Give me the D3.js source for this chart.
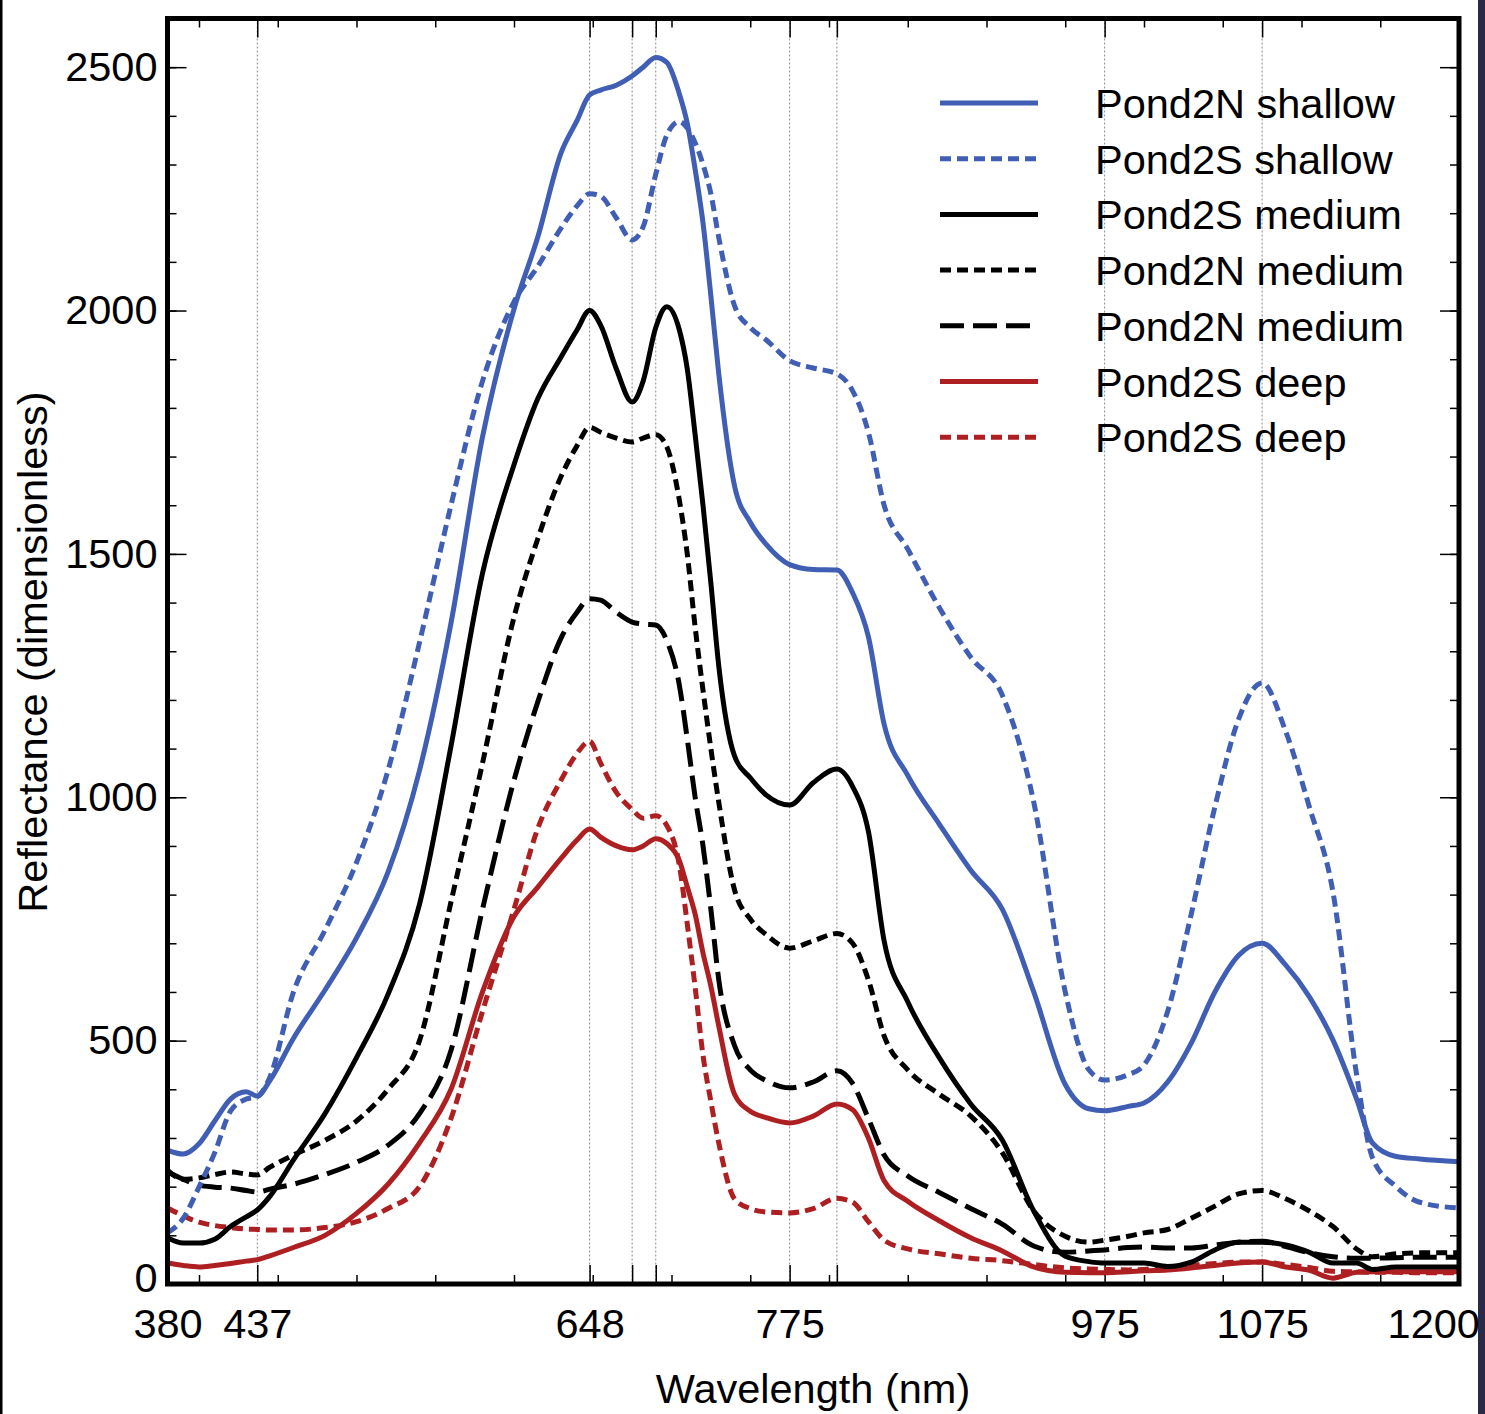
<!DOCTYPE html>
<html>
<head>
<meta charset="utf-8">
<script src="https://cdn.jsdelivr.net/npm/d3@7/dist/d3.min.js"></script>
<style>
  body { margin: 0; background: #fff; }
  svg { display: block; font-family: "Liberation Sans", Arial, Helvetica, sans-serif; }
</style>
</head>
<body>
<div class="chart"></div>
<script>
// data ============================================================ //

var wavelengths = [380, 390, 400, 410, 420, 430, 437, 445, 460, 480, 500, 520, 540, 560, 580, 600,
  615, 630, 640, 648, 655, 665, 675, 682, 690, 697, 705, 710, 715, 720, 725, 730, 740, 750, 760,
  775, 790, 805, 815, 825, 835, 850, 870, 890, 910, 930, 950, 965, 975, 990, 1000, 1015, 1030,
  1045, 1060, 1075, 1090, 1105, 1120, 1135, 1145, 1160, 1175, 1200];

var pond2nShallow = [275, 267, 288, 335, 380, 395, 386, 418, 505, 604, 711, 846, 1055, 1358, 1740, 2003,
  2150, 2325, 2390, 2443, 2453, 2463, 2482, 2500, 2520, 2510, 2445, 2385, 2290, 2180, 2030, 1870, 1640, 1565, 1520,
  1478, 1468, 1467, 1420, 1330, 1150, 1045, 945, 850, 770, 600, 410, 360, 356, 365, 372, 415, 495,
  600, 675, 700, 655, 590, 501, 380, 290, 262, 257, 251];

var pond2sShallow = [105, 135, 199, 270, 355, 380, 385, 425, 600, 727, 866, 1055, 1318, 1600, 1855, 2018,
  2090, 2170, 2215, 2240, 2235, 2190, 2145, 2172, 2280, 2360, 2388, 2375, 2345, 2300, 2240, 2150, 2010, 1965, 1940,
  1897, 1882, 1870, 1835, 1750, 1600, 1510, 1390, 1288, 1210, 990, 600, 440, 419, 430, 450, 560, 760,
  980, 1160, 1235, 1135, 980, 805, 430, 260, 200, 168, 156];

var pond2sMedium = [95, 84, 84, 92, 118, 138, 152, 180, 255, 350, 465, 595, 780, 1105, 1460, 1683,
  1818, 1905, 1960, 2000, 1970, 1880, 1812, 1855, 1965, 2008, 1960, 1880, 1745, 1600, 1440, 1270, 1085, 1040, 1005,
  984, 1030, 1058, 1022, 930, 705, 580, 465, 370, 296, 150, 57, 46, 43, 43, 43, 36, 45,
  70, 86, 86, 80, 65, 43, 43, 30, 35, 35, 35];

var pond2nMediumA = [234, 215, 218, 225, 230, 226, 224, 240, 265, 295, 335, 400, 500, 785, 1070, 1370,
  1530, 1660, 1722, 1760, 1750, 1738, 1730, 1738, 1745, 1720, 1610, 1500, 1350, 1220, 1100, 990, 810, 750, 718,
  690, 705, 720, 700, 625, 510, 440, 390, 345, 270, 150, 98, 86, 90, 98, 105, 112, 135,
  160, 185, 192, 175, 150, 118, 72, 56, 62, 64, 64];

var pond2nMediumB = [230, 215, 203, 199, 197, 192, 189, 195, 205, 225, 250, 285, 350, 480, 770, 1035,
  1195, 1328, 1380, 1408, 1405, 1380, 1360, 1356, 1354, 1322, 1230, 1120, 1000, 900, 770, 625, 490, 440, 418,
  403, 415, 438, 412, 340, 265, 222, 188, 155, 123, 78, 65, 68, 70, 75, 76, 74, 74,
  80, 86, 88, 77, 64, 56, 53, 53, 54, 55, 55];

var pond2sDeepA = [43, 38, 35, 38, 42, 47, 50, 58, 75, 100, 145, 205, 290, 400, 600, 755,
  815, 875, 912, 935, 918, 900, 892, 900, 915, 905, 870, 816, 760, 680, 612, 530, 390, 355, 342,
  331, 345, 370, 358, 300, 212, 170, 130, 95, 68, 35, 24, 23, 23, 25, 27, 29, 33,
  38, 43, 45, 35, 28, 12, 24, 25, 25, 25, 25];

var pond2sDeepB = [156, 140, 127, 120, 116, 113, 112, 111, 111, 116, 128, 155, 200, 340, 560, 770,
  935, 1036, 1090, 1115, 1070, 1010, 975, 957, 962, 942, 860, 740, 610, 470, 375, 290, 175, 155, 148,
  146, 155, 176, 168, 128, 90, 72, 62, 53, 48, 40, 33, 31, 30, 29, 30, 34, 38,
  42, 45, 45, 40, 34, 26, 25, 24, 24, 23, 23];

var seriesNames = ["Pond2N shallow", "Pond2S shallow", "Pond2S medium", "Pond2N medium",
  "Pond2N medium", "Pond2S deep", "Pond2S deep"];
var seriesValues = [pond2nShallow, pond2sShallow, pond2sMedium, pond2nMediumA,
  pond2nMediumB, pond2sDeepA, pond2sDeepB];
var seriesColors = ["#3f5eb4", "#3f5eb4", "#000000", "#000000", "#000000", "#ae1f22", "#ae1f22"];
var seriesDash = [null, "11,6", null, "11,6", "24,9", null, "11,6"];

var xLabelTicks = [380, 437, 648, 775, 975, 1075, 1200];
var xGridTicks = [437, 648, 675, 690, 775, 805, 975, 1075];
var xMinorTicks = d3.range(400, 1200, 50);
var yMajorTicks = [0, 500, 1000, 1500, 2000, 2500];
var yMinorTicks = d3.range(0, 2600, 100);

// chart ============================================================ //

function drawChart() {
  var W = 1485, H = 1414;
  var fontSize = "41.5px";
  var margin = { top: 18.5, right: 26, bottom: 130, left: 167.5 },
    width = 1459 - margin.left,
    height = 1284 - margin.top;

  var svg = d3.select(".chart").append("svg")
    .attr("width", W)
    .attr("height", H);

  // frame decoration from the source picture
  svg.append("rect").attr("x", 0).attr("y", 0).attr("width", 2.5).attr("height", H).attr("fill", "#000");
  svg.append("rect").attr("x", 1478).attr("y", 0).attr("width", 7).attr("height", H).attr("fill", "#2a2947");

  var g = svg.append("g")
    .attr("transform", "translate(" + margin.left + "," + margin.top + ")");

  var x = d3.scaleLinear().domain([380, 1200]).range([0, width]);
  var y = d3.scaleLinear().domain([0, 2600]).range([height, 0]);

  // grid
  g.selectAll(".grid").data(xGridTicks).enter().append("line")
    .attr("class", "grid")
    .attr("x1", function (d) { return x(d); })
    .attr("x2", function (d) { return x(d); })
    .attr("y1", 0).attr("y2", height)
    .attr("stroke", "#8a8a8a")
    .attr("stroke-width", 1)
    .attr("stroke-dasharray", "2,2");

  // ticks (inward)
  function tickAxis(axis, ticks, size, transform) {
    var a = g.append("g").attr("transform", transform)
      .call(axis.tickValues(ticks).tickSize(size).tickFormat(""));
    a.select(".domain").remove();
    a.selectAll("line").attr("stroke", "#000").attr("stroke-width", 1.5);
  }
  tickAxis(d3.axisBottom(x), xMinorTicks, -9, "translate(0," + height + ")");
  tickAxis(d3.axisBottom(x), xGridTicks, -19, "translate(0," + height + ")");
  tickAxis(d3.axisTop(x), xMinorTicks, -9, "translate(0,0)");
  tickAxis(d3.axisTop(x), xGridTicks, -19, "translate(0,0)");
  tickAxis(d3.axisLeft(y), yMinorTicks, -9, "translate(0,0)");
  tickAxis(d3.axisLeft(y), yMajorTicks, -19, "translate(0,0)");
  tickAxis(d3.axisRight(y), yMinorTicks, -9, "translate(" + width + ",0)");
  tickAxis(d3.axisRight(y), yMajorTicks, -19, "translate(" + width + ",0)");

  // labels
  var xAxis = g.append("g")
    .attr("transform", "translate(0," + height + ")")
    .call(d3.axisBottom(x).tickValues(xLabelTicks).tickSize(0).tickPadding(25).tickFormat(d3.format("d")));
  xAxis.select(".domain").remove();
  xAxis.selectAll("text")
    .attr("font-size", fontSize)
    .attr("font-family", "Liberation Sans, Arial, sans-serif")
    .attr("fill", "#000")
    .attr("dx", function (d) { return d == 1200 ? "-0.62em" : 0; });

  var yAxis = g.append("g")
    .call(d3.axisLeft(y).tickValues(yMajorTicks).tickSize(0).tickPadding(10).tickFormat(d3.format("d")));
  yAxis.select(".domain").remove();
  yAxis.selectAll("text")
    .attr("font-size", fontSize)
    .attr("font-family", "Liberation Sans, Arial, sans-serif")
    .attr("fill", "#000")
    .attr("dy", function (d) { return d == 0 ? "0.18em" : "0.32em"; });

  svg.append("text")
    .attr("x", 813)
    .attr("y", 1403)
    .attr("text-anchor", "middle")
    .attr("font-size", fontSize)
    .text("Wavelength (nm)");

  svg.append("text")
    .attr("transform", "translate(47,652) rotate(-90)")
    .attr("text-anchor", "middle")
    .attr("font-size", fontSize)
    .text("Reflectance (dimensionless)");

  // curves
  var line = d3.line()
    .x(function (d, i) { return x(wavelengths[i]); })
    .y(function (d) { return y(d); })
    .curve(d3.curveMonotoneX);

  var plot = g.append("g");
  plot.append("clipPath").attr("id", "clip").append("rect")
    .attr("width", width).attr("height", height);
  plot.attr("clip-path", "url(#clip)");

  for (var s = seriesValues.length - 1; s >= 0; s--) {
    plot.append("path")
      .attr("d", line(seriesValues[s]))
      .attr("fill", "none")
      .attr("stroke", seriesColors[s])
      .attr("stroke-width", 5)
      .attr("stroke-linejoin", "round")
      .attr("stroke-dasharray", seriesDash[s]);
  }

  // legend
  var legend = svg.append("g").attr("transform", "translate(940,103)");
  seriesNames.forEach(function (name, i) {
    var row = legend.append("g").attr("transform", "translate(0," + i * 55.7 + ")");
    row.append("line")
      .attr("x1", 0).attr("x2", 98)
      .attr("stroke", seriesColors[i])
      .attr("stroke-width", 5)
      .attr("stroke-dasharray", seriesDash[i]);
    row.append("text")
      .attr("x", 155)
      .attr("y", 15)
      .attr("font-size", fontSize)
      .text(name);
  });

  // frame
  g.append("rect")
    .attr("width", width).attr("height", height)
    .attr("fill", "none")
    .attr("stroke", "#000")
    .attr("stroke-width", 5);
}

drawChart();
</script>
</body>
</html>
